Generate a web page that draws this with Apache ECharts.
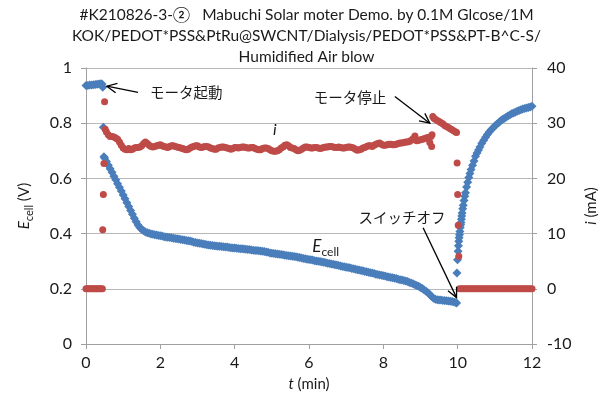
<!DOCTYPE html>
<html>
<head>
<meta charset="utf-8">
<script src="https://cdn.jsdelivr.net/npm/echarts@6/dist/echarts.min.js"></script>
<style>
html,body{margin:0;padding:0;background:#fff;}
#chart{width:613px;height:403px;}
</style>
</head>
<body>
<div id="chart"></div>
<script>
// Cell voltage E_cell (V) against time t (min)
const eCell = [
  [0.00,0.937],[0.05,0.937],[0.10,0.938],[0.15,0.938],[0.20,0.939],[0.25,0.940],[0.30,0.941],[0.35,0.942],[0.40,0.943],[0.43,0.942],[0.45,0.930],
  [0.467,0.785],[0.483,0.678],
  [0.50,0.674],[0.55,0.661],[0.60,0.648],[0.65,0.635],[0.70,0.622],[0.75,0.608],[0.80,0.595],[0.85,0.581],[0.90,0.568],[0.95,0.554],
  [1.00,0.540],[1.05,0.526],[1.10,0.512],[1.15,0.498],[1.20,0.484],[1.25,0.470],[1.30,0.456],[1.35,0.443],[1.40,0.431],[1.45,0.422],
  [1.50,0.415],[1.55,0.410],[1.60,0.406],[1.65,0.403],[1.70,0.401],[1.75,0.399],[1.80,0.398],[1.85,0.396],[1.90,0.395],[1.95,0.393],
  [2.00,0.392],[2.05,0.391],[2.10,0.389],[2.15,0.388],[2.20,0.387],[2.25,0.386],[2.30,0.385],[2.35,0.383],[2.40,0.382],[2.45,0.381],
  [2.50,0.380],[2.55,0.379],[2.60,0.378],[2.65,0.377],[2.70,0.375],[2.75,0.374],[2.80,0.373],[2.85,0.371],[2.90,0.369],[2.95,0.368],
  [3.00,0.366],[3.05,0.365],[3.10,0.364],[3.15,0.362],[3.20,0.361],[3.25,0.360],[3.30,0.359],[3.35,0.358],[3.40,0.357],[3.45,0.356],
  [3.50,0.355],[3.55,0.354],[3.60,0.354],[3.65,0.353],[3.70,0.352],[3.75,0.351],[3.80,0.351],[3.85,0.350],[3.90,0.349],[3.95,0.348],
  [4.00,0.348],[4.05,0.347],[4.10,0.346],[4.15,0.345],[4.20,0.345],[4.25,0.344],[4.30,0.343],[4.35,0.342],[4.40,0.342],[4.45,0.341],
  [4.50,0.340],[4.55,0.339],[4.60,0.339],[4.65,0.338],[4.70,0.337],[4.75,0.336],[4.80,0.335],[4.85,0.333],[4.90,0.332],[4.95,0.330],
  [5.00,0.329],[5.05,0.328],[5.10,0.327],[5.15,0.326],[5.20,0.325],[5.25,0.324],[5.30,0.323],[5.35,0.322],[5.40,0.321],[5.45,0.320],
  [5.50,0.319],[5.55,0.318],[5.60,0.317],[5.65,0.316],[5.70,0.314],[5.75,0.313],[5.80,0.312],[5.85,0.310],[5.90,0.309],[5.95,0.307],
  [6.00,0.306],[6.05,0.305],[6.10,0.304],[6.15,0.302],[6.20,0.301],[6.25,0.300],[6.30,0.299],[6.35,0.297],[6.40,0.296],[6.45,0.294],
  [6.50,0.293],[6.55,0.292],[6.60,0.290],[6.65,0.289],[6.70,0.287],[6.75,0.286],[6.80,0.284],[6.85,0.283],[6.90,0.281],[6.95,0.280],
  [7.00,0.278],[7.05,0.277],[7.10,0.276],[7.15,0.274],[7.20,0.273],[7.25,0.271],[7.30,0.269],[7.35,0.268],[7.40,0.266],[7.45,0.265],
  [7.50,0.263],[7.55,0.262],[7.60,0.260],[7.65,0.258],[7.70,0.257],[7.75,0.255],[7.80,0.253],[7.85,0.252],[7.90,0.250],[7.95,0.249],
  [8.00,0.247],[8.05,0.246],[8.10,0.244],[8.15,0.243],[8.20,0.241],[8.25,0.240],[8.30,0.238],[8.35,0.237],[8.40,0.235],[8.45,0.233],
  [8.50,0.232],[8.55,0.230],[8.60,0.228],[8.65,0.226],[8.70,0.223],[8.75,0.221],[8.80,0.218],[8.85,0.215],[8.90,0.212],[8.95,0.209],
  [9.00,0.205],[9.05,0.201],[9.10,0.196],[9.15,0.191],[9.20,0.186],[9.25,0.179],[9.30,0.172],[9.35,0.166],[9.40,0.162],[9.45,0.160],
  [9.50,0.159],[9.55,0.159],[9.60,0.158],[9.65,0.158],[9.70,0.157],[9.75,0.156],[9.80,0.155],[9.85,0.154],[9.90,0.152],[9.95,0.150],[9.97,0.149],
  [9.98,0.257],[9.995,0.305],[10.01,0.336],[10.02,0.356],[10.03,0.372],[10.04,0.385],[10.05,0.396],[10.06,0.408],[10.07,0.422],[10.08,0.432],
  [10.09,0.440],[10.10,0.452],[10.11,0.464],[10.12,0.475],[10.135,0.490],[10.15,0.503],[10.17,0.520],[10.19,0.535],[10.21,0.548],[10.24,0.569],
  [10.27,0.586],[10.30,0.603],[10.33,0.618],[10.36,0.632],[10.40,0.648],[10.44,0.663],[10.48,0.680],[10.52,0.692],[10.56,0.703],[10.60,0.714],
  [10.65,0.727],[10.70,0.738],[10.75,0.749],[10.80,0.759],[10.85,0.768],[10.90,0.776],[10.95,0.783],[11.00,0.790],[11.05,0.796],[11.10,0.802],
  [11.15,0.808],[11.20,0.813],[11.25,0.817],[11.30,0.822],[11.35,0.826],[11.40,0.830],[11.45,0.834],[11.50,0.837],[11.55,0.840],[11.60,0.843],
  [11.65,0.846],[11.70,0.849],[11.75,0.851],[11.80,0.853],[11.85,0.855],[11.90,0.857],[11.95,0.859],[12.00,0.861]
];

// Current i (mA) against time t (min)
const current = [
  [0.00,0],[0.04,0],[0.08,0],[0.12,0],[0.16,0],[0.20,0],[0.24,0],[0.28,0],[0.32,0],[0.36,0],[0.40,0],[0.44,0],
  [0.450,10.7],[0.467,17.1],[0.483,22.7],[0.500,33.9],[0.517,28.9],
  [0.55,28.4],[0.60,27.9],[0.65,27.6],[0.70,27.6],[0.75,27.5],[0.80,27.3],[0.85,27.1],[0.90,26.6],[0.95,26.0],
  [1.00,25.5],[1.05,25.3],[1.10,25.2],[1.15,25.4],[1.20,25.2],[1.25,25.3],[1.30,25.5],[1.35,25.6],[1.40,25.6],[1.45,25.7],
  [1.50,25.9],[1.55,26.3],[1.60,26.6],[1.65,26.3],[1.70,26.0],[1.75,25.8],[1.80,25.7],[1.85,25.8],[1.90,25.9],[1.95,26.0],
  [2.00,26.1],[2.05,25.9],[2.10,25.8],[2.15,25.7],[2.20,25.6],[2.25,25.8],[2.30,25.9],[2.35,25.9],[2.40,25.8],[2.45,25.7],
  [2.50,25.6],[2.55,25.5],[2.60,25.4],[2.65,25.3],[2.70,25.2],[2.75,25.3],[2.80,25.5],[2.85,25.7],[2.90,25.8],[2.95,25.9],
  [3.00,25.9],[3.05,25.7],[3.10,25.6],[3.15,25.7],[3.20,25.8],[3.25,25.8],[3.30,25.7],[3.35,25.5],[3.40,25.4],[3.45,25.3],
  [3.50,25.3],[3.55,25.5],[3.60,25.6],[3.65,25.7],[3.70,25.7],[3.75,25.6],[3.80,25.5],[3.85,25.4],[3.90,25.3],[3.95,25.4],
  [4.00,25.6],[4.05,25.6],[4.10,25.5],[4.15,25.6],[4.20,25.7],[4.25,25.7],[4.30,25.6],[4.35,25.5],[4.40,25.5],[4.45,25.6],
  [4.50,25.6],[4.55,25.4],[4.60,25.3],[4.65,25.2],[4.70,25.2],[4.75,25.4],[4.80,25.5],[4.85,25.5],[4.90,25.4],[4.95,25.2],
  [5.00,25.0],[5.05,24.9],[5.10,24.9],[5.15,25.0],[5.20,25.2],[5.25,25.5],[5.30,25.7],[5.35,26.0],[5.40,26.1],[5.45,25.9],
  [5.50,25.6],[5.55,25.5],[5.60,25.4],[5.65,25.2],[5.70,25.0],[5.75,25.1],[5.80,25.3],[5.85,25.5],[5.90,25.7],[5.95,25.7],
  [6.00,25.6],[6.05,25.5],[6.10,25.5],[6.15,25.6],[6.20,25.6],[6.25,25.5],[6.30,25.4],[6.35,25.5],[6.40,25.6],[6.45,25.7],
  [6.50,25.7],[6.55,25.8],[6.60,25.8],[6.65,25.7],[6.70,25.6],[6.75,25.6],[6.80,25.7],[6.85,25.6],[6.90,25.5],[6.95,25.5],
  [7.00,25.6],[7.05,25.7],[7.10,25.7],[7.15,25.6],[7.20,25.5],[7.25,25.3],[7.30,25.1],[7.35,25.2],[7.40,25.3],[7.45,25.5],
  [7.50,25.6],[7.55,25.8],[7.60,25.9],[7.65,25.9],[7.70,25.8],[7.75,26.0],[7.80,26.2],[7.85,26.3],[7.90,26.4],[7.95,26.2],
  [8.00,26.0],[8.05,26.0],[8.10,26.1],[8.15,26.2],[8.20,26.2],[8.25,26.1],[8.30,26.1],[8.35,26.2],[8.40,26.3],[8.45,26.4],
  [8.50,26.4],[8.55,26.5],[8.60,26.6],[8.65,26.6],[8.70,26.7],[8.75,26.9],[8.80,27.2],[8.85,27.7],[8.90,26.8],[8.95,26.9],
  [9.00,27.0],[9.05,27.1],[9.10,27.2],[9.15,27.3],[9.20,27.4],[9.25,26.5],[9.28,27.6],[9.30,25.8],[9.31,27.9],
  [9.33,31.2],[9.36,30.9],[9.40,30.7],[9.45,30.5],[9.50,30.3],[9.55,30.1],[9.60,29.9],[9.65,29.6],[9.70,29.4],[9.75,29.2],
  [9.80,29.0],[9.85,28.8],[9.90,28.6],[9.95,28.4],[9.97,28.3],
  [9.985,22.8],[10.00,17.1],[10.015,11.5],[10.03,5.9],
  [10.05,0],[10.10,0],[10.15,0],[10.20,0],[10.25,0],[10.30,0],[10.35,0],[10.40,0],[10.45,0],[10.50,0],
  [10.55,0],[10.60,0],[10.65,0],[10.70,0],[10.75,0],[10.80,0],[10.85,0],[10.90,0],[10.95,0],[11.00,0],
  [11.05,0],[11.10,0],[11.15,0],[11.20,0],[11.25,0],[11.30,0],[11.35,0],[11.40,0],[11.45,0],[11.50,0],
  [11.55,0],[11.60,0],[11.65,0],[11.70,0],[11.75,0],[11.80,0],[11.85,0],[11.90,0],[11.95,0],[12.00,0]
];

// Axis ranges and tick steps
const xTicks = [0, 2, 4, 6, 8, 10, 12];
const eTicks = [0, 0.2, 0.4, 0.6, 0.8, 1];
const iTicks = [-10, 0, 10, 20, 30, 40];

const titleLines = [
  '#K210826-3-②   Mabuchi Solar moter Demo. by 0.1M Glcose/1M',
  'KOK/PEDOT*PSS&PtRu@SWCNT/Dialysis/PEDOT*PSS&PT-B^C-S/',
  'Humidified Air blow'
];

// Call-outs, placed in (t, E_cell) coordinates
const notes = [
  { text: 'モータ起動', at: [2.70, 0.911], from: [1.40, 0.912], to: [0.56, 0.934] },
  { text: 'モータ停止', at: [7.10, 0.892], from: [8.31, 0.897], to: [9.25, 0.800] },
  { text: 'スイッチオフ', at: [8.50, 0.458], from: [9.07, 0.421], to: [9.97, 0.168] }
];
const seriesLabels = [
  { text: '{i|i}', at: [5.08, 0.776] },
  { text: '{e|E}{s|cell}', at: [6.45, 0.353] }
];

const FONT = 'Lato, "Noto Sans CJK JP", sans-serif';
const JP_FONT = '"Noto Sans CJK JP", sans-serif';
const BLUE = '#4a7ebb';
const RED = '#be4b48';
const AXIS = '#a0a0a0';
const GRID = '#b8b8b8';
const TEXT = '#1a1a1a';

const chart = echarts.init(document.getElementById('chart'), null, { renderer: 'canvas' });

const step = a => a[1] - a[0];

chart.setOption({
  animation: false,
  backgroundColor: '#fff',
  textStyle: { fontFamily: FONT, color: TEXT },
  title: titleLines.map((line, k) => ({
    text: line,
    left: 'center',
    top: 5 + k * 21,
    padding: 0,
    textStyle: { fontFamily: FONT, fontSize: 15.5, fontWeight: 'normal', color: TEXT, lineHeight: 20 }
  })),
  grid: { left: 86, right: 81, top: 68, bottom: 59, containLabel: false },
  xAxis: {
    type: 'value',
    min: xTicks[0], max: xTicks[xTicks.length - 1], interval: step(xTicks),
    axisLine: { onZero: false, lineStyle: { color: AXIS, width: 1 } },
    axisTick: { show: true, inside: false, length: 5, lineStyle: { color: AXIS } },
    axisLabel: { margin: 11, fontSize: 16, color: TEXT, fontFamily: FONT },
    splitLine: { show: false },
    name: '{t|t} (min)',
    nameLocation: 'middle',
    nameGap: 33,
    nameTextStyle: { fontSize: 15, color: TEXT, fontFamily: FONT,
      rich: { t: { fontStyle: 'italic', fontSize: 15, fontFamily: FONT, color: TEXT } } }
  },
  yAxis: [
    {
      type: 'value',
      min: eTicks[0], max: eTicks[eTicks.length - 1], interval: step(eTicks),
      axisLine: { show: true, lineStyle: { color: AXIS, width: 1 } },
      axisTick: { show: true, inside: false, length: 5, lineStyle: { color: AXIS } },
      axisLabel: { margin: 14, fontSize: 16, color: TEXT, fontFamily: FONT },
      splitLine: { show: true, lineStyle: { color: GRID, width: 1 } },
      name: '{e|E}{s|cell} (V)',
      nameLocation: 'middle',
      nameRotate: 90,
      nameGap: 54,
      nameTextStyle: { fontSize: 15, color: TEXT, fontFamily: FONT,
        rich: {
          e: { fontStyle: 'italic', fontSize: 15, fontFamily: FONT, color: TEXT, verticalAlign: 'bottom' },
          s: { fontSize: 11, fontFamily: FONT, color: TEXT, verticalAlign: 'bottom', padding: [0, 0, -3, 0] }
        } }
    },
    {
      type: 'value',
      min: iTicks[0], max: iTicks[iTicks.length - 1], interval: step(iTicks),
      position: 'right',
      axisLine: { show: true, lineStyle: { color: AXIS, width: 1 } },
      axisTick: { show: true, inside: false, length: 5, lineStyle: { color: AXIS } },
      axisLabel: { margin: 15, fontSize: 16, color: TEXT, fontFamily: FONT },
      splitLine: { show: false },
      name: '{i|i} (mA)',
      nameLocation: 'middle',
      nameRotate: 90,
      nameGap: 52,
      nameTextStyle: { fontSize: 15, color: TEXT, fontFamily: FONT,
        rich: { i: { fontStyle: 'italic', fontSize: 15, fontFamily: FONT, color: TEXT } } }
    }
  ],
  series: [
    {
      name: 'E_cell',
      type: 'scatter',
      xAxisIndex: 0, yAxisIndex: 0,
      symbol: 'diamond',
      symbolSize: 9,
      itemStyle: { color: BLUE, opacity: 1 },
      data: eCell,
      z: 2
    },
    {
      name: 'i',
      type: 'scatter',
      xAxisIndex: 0, yAxisIndex: 1,
      symbol: 'circle',
      symbolSize: 7,
      itemStyle: { color: RED, opacity: 1 },
      data: current,
      z: 3
    }
  ]
});

// Call-out texts, arrows and series labels, positioned through the axes
function px(p) { return chart.convertToPixel({ xAxisIndex: 0, yAxisIndex: 0 }, p); }

const graphics = [];
notes.forEach(n => {
  const c = px(n.at), a = px(n.from), b = px(n.to);
  graphics.push({
    type: 'text', x: c[0], y: c[1], z: 10,
    style: { text: n.text, font: '14.5px ' + JP_FONT, fill: TEXT, align: 'center', verticalAlign: 'middle' }
  });
  graphics.push({
    type: 'line', z: 10,
    shape: { x1: a[0], y1: a[1], x2: b[0], y2: b[1] },
    style: { stroke: '#000', lineWidth: 1.3 }
  });
  const ang = Math.atan2(a[1] - b[1], a[0] - b[0]);
  const len = 11, spread = 0.45;
  graphics.push({
    type: 'polyline', z: 10,
    shape: { points: [
      [b[0] + len * Math.cos(ang + spread), b[1] + len * Math.sin(ang + spread)],
      [b[0], b[1]],
      [b[0] + len * Math.cos(ang - spread), b[1] + len * Math.sin(ang - spread)]
    ] },
    style: { stroke: '#000', lineWidth: 1.3, fill: null }
  });
});
seriesLabels.forEach(l => {
  const c = px(l.at);
  graphics.push({
    type: 'text', x: c[0], y: c[1], z: 10,
    style: {
      text: l.text, align: 'center', verticalAlign: 'middle',
      rich: {
        i: { fontStyle: 'italic', fontSize: 16, fontFamily: FONT, fill: TEXT },
        e: { fontStyle: 'italic', fontSize: 17, fontFamily: FONT, fill: TEXT, verticalAlign: 'bottom' },
        s: { fontSize: 12, fontFamily: FONT, fill: TEXT, verticalAlign: 'bottom', padding: [0, 0, -3, 0] }
      }
    }
  });
});
chart.setOption({ graphic: graphics });
</script>
</body>
</html>
